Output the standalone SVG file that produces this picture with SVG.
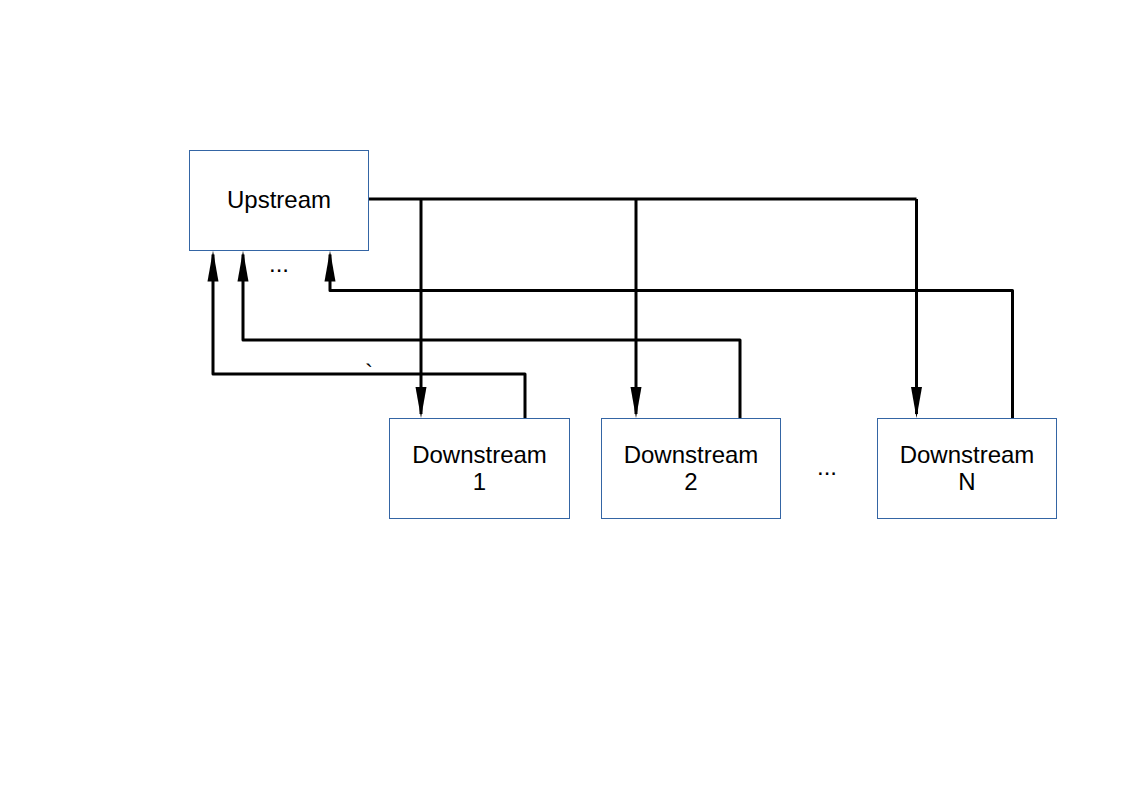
<svg xmlns="http://www.w3.org/2000/svg" width="1123" height="794" viewBox="0 0 1123 794">
  <style>
    .box { fill: #ffffff; stroke: #3465a4; stroke-width: 1; }
    .lbl { font-family: "Liberation Sans", Arial, sans-serif; font-size: 24px; fill: #000000; text-anchor: middle; }
    .txt { font-family: "Liberation Sans", Arial, sans-serif; font-size: 24px; fill: #000000; }
    .wire { fill: none; stroke: #000000; stroke-width: 3; stroke-linejoin: round; }
  </style>
  <defs>
    <marker id="arrow" markerUnits="userSpaceOnUse" markerWidth="32" markerHeight="12" viewBox="0 -6 32 12" refX="27" refY="0" orient="auto">
      <path d="M0,-5.5 L31,0 L0,5.5 Z" fill="#000000"/>
    </marker>
  </defs>
  <rect width="1123" height="794" fill="#ffffff"/>

  <g id="connectors">
    <path class="wire" d="M368.5,199 H916.5"/>
    <path class="wire" d="M421,199 V414" marker-end="url(#arrow)"/>
    <path class="wire" d="M636,199 V414" marker-end="url(#arrow)"/>
    <path class="wire" d="M916.5,199 V414" marker-end="url(#arrow)"/>
    <path class="wire" d="M525,418.5 V374 H213 V254.5" marker-end="url(#arrow)"/>
    <path class="wire" d="M740,418.5 V340 H243 V254.5" marker-end="url(#arrow)"/>
    <path class="wire" d="M1012.5,418.5 V290.5 H330 V254.5" marker-end="url(#arrow)"/>
  </g>

  <g id="upstream">
    <rect class="box" x="189.5" y="150.5" width="179" height="100"/>
    <text class="lbl" x="279" y="208">Upstream</text>
  </g>
  <g id="downstream1">
    <rect class="box" x="389.5" y="418.5" width="180" height="100"/>
    <text class="lbl" x="479.5" y="463">Downstream</text>
    <text class="lbl" x="479.5" y="490">1</text>
  </g>
  <g id="downstream2">
    <rect class="box" x="601.5" y="418.5" width="179" height="100"/>
    <text class="lbl" x="691" y="463">Downstream</text>
    <text class="lbl" x="691" y="490">2</text>
  </g>
  <g id="downstreamN">
    <rect class="box" x="877.5" y="418.5" width="179" height="100"/>
    <text class="lbl" x="967" y="463">Downstream</text>
    <text class="lbl" x="967" y="490">N</text>
  </g>

  <g id="annotations">
    <text class="lbl" x="279" y="272">...</text>
    <text class="lbl" x="827" y="475">...</text>
    <text class="txt" x="365" y="381">`</text>
  </g>
</svg>
